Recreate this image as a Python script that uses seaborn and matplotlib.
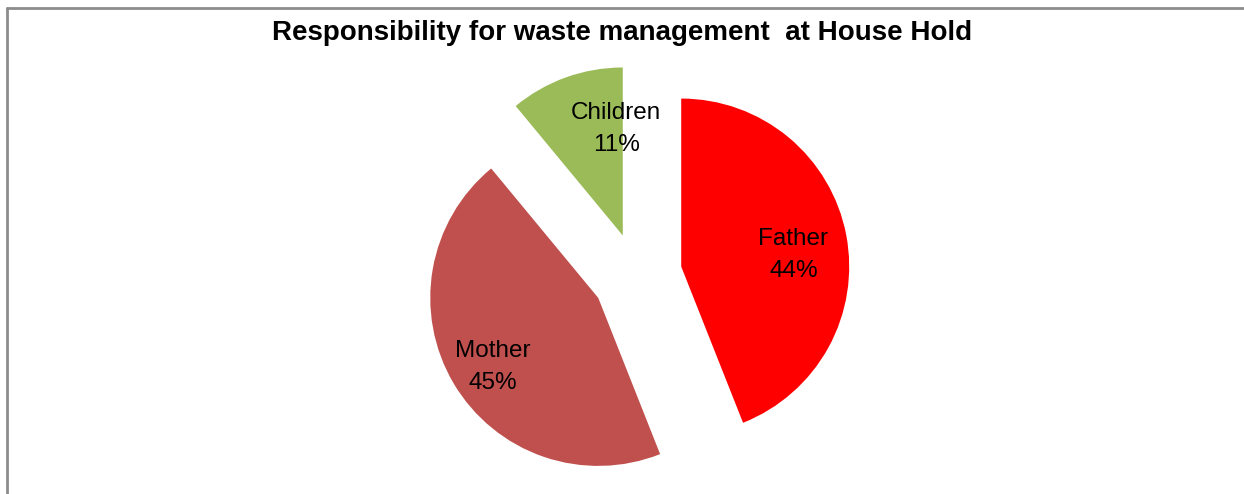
import matplotlib
matplotlib.use("Agg")
import matplotlib.pyplot as plt
import seaborn as sns
from matplotlib.lines import Line2D

labels = ['Father', 'Mother', 'Children']
shares = [44, 45, 11]
colors = ['#FF0000', '#C0504D', '#9BBB59']

sns.set_theme(style='white')
plt.rcParams['font.family'] = ['Liberation Sans', 'DejaVu Sans']

W, H = 1244, 494
fig = plt.figure(figsize=(W / 100, H / 100), dpi=100)
ax = fig.add_axes([0, 0, 1, 1])

# pie laid out in pixel units
radius = 168
names = iter(labels)
wedges, texts, autotexts = ax.pie(
    shares, colors=colors, startangle=90, counterclock=False,
    center=(637, H - 275), radius=radius, explode=[45, 45, 42],
    autopct=lambda p: f'{next(names)}\n{p:.0f}%', pctdistance=0.68,
    textprops={'fontsize': 17.5, 'color': 'black', 'linespacing': 1.6},
    wedgeprops={'linewidth': 0})

# Excel-like label nudges (pixels)
nudges = [(0, -10), (-7, -11), (32, -1)]
for t, (dx, dy) in zip(autotexts, nudges):
    x, y = t.get_position()
    t.set_position((x + dx, y + dy))

ax.set_xlim(0, W)
ax.set_ylim(0, H)
ax.set_aspect('equal')
ax.axis('off')

fig.text(0.5, 1 - 33 / H, 'Responsibility for waste management  at House Hold',
         ha='center', va='center', fontsize=20, fontweight='bold', color='black')

# chart frame (only top and left edges are visible)
fig.add_artist(Line2D([7 / W, 7 / W], [0, 1 - 8 / H], transform=fig.transFigure,
                      color='#8c8c8c', lw=2))
fig.add_artist(Line2D([7 / W, 1], [1 - 8 / H, 1 - 8 / H], transform=fig.transFigure,
                      color='#8c8c8c', lw=2))

fig.savefig('out.png', dpi=100)
